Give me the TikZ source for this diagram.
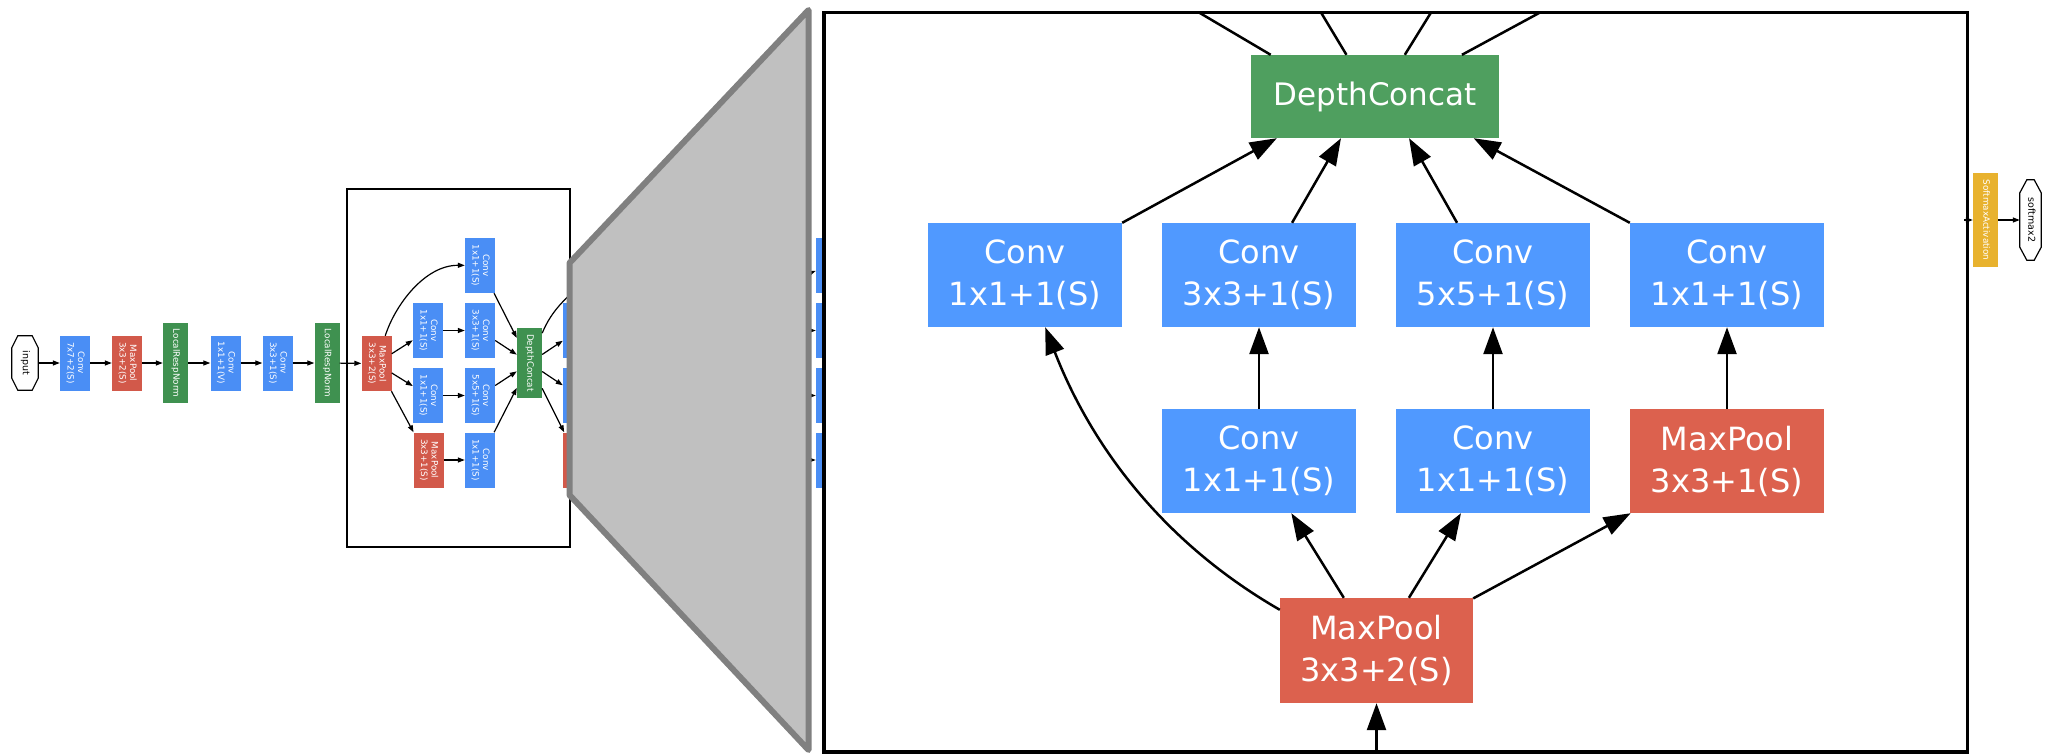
\documentclass[tikz,border=0pt]{standalone}
\usepackage{fontspec}
\usepackage{graphicx}
\setmainfont{DejaVu Sans}
\usetikzlibrary{arrows.meta,calc}
\definecolor{cblue}{HTML}{5099FF}
\definecolor{cred}{HTML}{DC614E}
\definecolor{cgreen}{HTML}{4F9F5F}
\definecolor{cyellow}{HTML}{E8B22E}
\definecolor{sblue}{HTML}{4A8EF5}
\definecolor{sred}{HTML}{D2594A}
\definecolor{sgreen}{HTML}{3F9150}
\definecolor{tfill}{HTML}{C0C0C0}
\definecolor{tline}{HTML}{808080}
\newcommand{\rlab}[1]{\rotatebox[origin=c]{-90}{\begin{tabular}{@{}c@{}}#1\end{tabular}}}
\tikzset{
  sbox/.style={rectangle, inner sep=0pt, text=white, font=\fontsize{8.8}{10.5}\selectfont},
  sconv/.style={sbox, fill=sblue, minimum width=30pt, minimum height=55pt},
  spool/.style={sbox, fill=sred, minimum width=30pt, minimum height=55pt},
  snorm/.style={sbox, fill=sgreen},
  sedge/.style={line width=1.2pt, -{Triangle[length=7pt,width=5pt]}},
  bbox/.style={rectangle, inner sep=0pt, text=white, align=center, font=\fontsize{32}{42}\selectfont, minimum width=194pt, minimum height=104pt},
  bconv/.style={bbox, fill=cblue},
  bpool/.style={bbox, fill=cred},
  bedge/.style={line width=2.5pt, -{Triangle[length=27pt,width=19pt]}},
  bline/.style={line width=2.5pt},
  octo/.style={rectangle, inner sep=0pt, text=black, font=\fontsize{9.5}{11}\selectfont},
}
\begin{document}
\begin{tikzpicture}[x=1pt,y=-1pt]
\useasboundingbox (0,0) rectangle (2047,755);
% ---------------- small network ----------------
\node[octo, minimum width=26pt, minimum height=54pt] (inp) at (25,363) {\rlab{input}};
\draw[line width=1.2pt] ($(inp.north west)+(6,0)$) -- ($(inp.north east)+(-6,0)$) -- ($(inp.north east)+(0,12)$) -- ($(inp.south east)+(0,-12)$) -- ($(inp.south east)+(-6,0)$) -- ($(inp.south west)+(6,0)$) -- ($(inp.south west)+(0,-12)$) -- ($(inp.north west)+(0,12)$) -- cycle;
\node[sconv] (sc1) at (75,363) {\rlab{Conv\\7x7+2(S)}};
\node[spool] (sm1) at (127,363) {\rlab{MaxPool\\3x3+2(S)}};
\node[snorm, minimum width=25pt, minimum height=80pt] (sn1) at (175.5,363) {\rlab{LocalRespNorm}};
\node[sconv] (sc2) at (225.5,363) {\rlab{Conv\\1x1+1(V)}};
\node[sconv] (sc3) at (277.5,363) {\rlab{Conv\\3x3+1(S)}};
\node[snorm, minimum width=25pt, minimum height=80pt] (sn2) at (327,363) {\rlab{LocalRespNorm}};
\node[spool] (sm2) at (376.5,363.5) {\rlab{MaxPool\\3x3+2(S)}};
\node[sconv] (sr1) at (428,330.5) {\rlab{Conv\\1x1+1(S)}};
\node[sconv] (sr2) at (428,395.5) {\rlab{Conv\\1x1+1(S)}};
\node[spool] (sp) at (428.5,460) {\rlab{MaxPool\\3x3+1(S)}};
\node[sconv] (sa) at (480,265.5) {\rlab{Conv\\1x1+1(S)}};
\node[sconv] (sb) at (480,330.5) {\rlab{Conv\\3x3+1(S)}};
\node[sconv] (scc) at (480,395.5) {\rlab{Conv\\5x5+1(S)}};
\node[sconv] (sd) at (480,460) {\rlab{Conv\\1x1+1(S)}};
\node[snorm, minimum width=25pt, minimum height=70pt] (sdc) at (529.5,363) {\rlab{DepthConcat}};
\node[sconv] (sx1) at (578,330.5) {};
\node[sconv] (sx2) at (578,395.5) {};
\node[spool] (sx3) at (578,460) {};
\coordinate (sx0) at (610,262);
\draw[sedge] (inp) -- (sc1);
\draw[sedge] (sc1) -- (sm1);
\draw[sedge] (sm1) -- (sn1);
\draw[sedge] (sn1) -- (sc2);
\draw[sedge] (sc2) -- (sc3);
\draw[sedge] (sc3) -- (sn2);
\draw[sedge] (sn2) -- (sm2);
\draw[sedge] (sm2) .. controls (395,305) and (425,265) .. (sa);
\draw[sedge] (sm2) -- (sr1);
\draw[sedge] (sm2) -- (sr2);
\draw[sedge] (sm2) -- (sp);
\draw[sedge] (sr1) -- (sb);
\draw[sedge] (sr2) -- (scc);
\draw[sedge] (sp) -- (sd);
\draw[sedge] (sa) -- (sdc);
\draw[sedge] (sb) -- (sdc);
\draw[sedge] (scc) -- (sdc);
\draw[sedge] (sd) -- (sdc);
\draw[sedge] (sdc) -- (sx1);
\draw[sedge] (sdc) -- (sx2);
\draw[sedge] (sdc) -- (sx3);
\draw[line width=1.2pt] (sdc) .. controls (552,310) and (565,296) .. (sx0);
\draw[line width=2pt] (347,189) rectangle (570,547);
% slivers of the following layer
\node[sconv] (sy1) at (831,265.5) {};
\node[sconv] (sy2) at (831,330.5) {};
\node[sconv] (sy3) at (831,395.5) {};
\node[sconv] (sy4) at (831,460) {};
\coordinate (sz1) at (790,280);
\coordinate (sz2) at (790,330.5);
\coordinate (sz3) at (790,395.5);
\coordinate (sz4) at (790,460);
\draw[sedge] (sz1) -- (sy1);
\draw[sedge] (sz2) -- (sy2);
\draw[sedge] (sz3) -- (sy3);
\draw[sedge] (sz4) -- (sy4);
% ---------------- zoom trapezoid ----------------
\filldraw[fill=tfill, draw=tline, line width=6pt, line join=round] (569.5,263) -- (808.5,10) -- (808.5,750) -- (569.5,495) -- cycle;
% ---------------- big inception module ----------------
\fill[white] (824,12.5) rectangle (1967.5,752);
\node[bbox, fill=cgreen, minimum width=248pt, minimum height=83pt, font=\fontsize{31}{40}\selectfont] (dc) at (1375,96.5) {DepthConcat};
\node[bconv] (c1) at (1025,275) {Conv\\1x1+1(S)};
\node[bconv] (c2) at (1259,275) {Conv\\3x3+1(S)};
\node[bconv] (c3) at (1493,275) {Conv\\5x5+1(S)};
\node[bconv] (c4) at (1727,275) {Conv\\1x1+1(S)};
\node[bconv] (r2) at (1259,461) {Conv\\1x1+1(S)};
\node[bconv] (r3) at (1493,461) {Conv\\1x1+1(S)};
\node[bpool] (pp) at (1727,461) {MaxPool\\3x3+1(S)};
\node[bpool, minimum width=193pt, minimum height=105pt] (mp) at (1376.5,650.5) {MaxPool\\3x3+2(S)};
\coordinate (t1) at (1199,12.5);
\coordinate (t2) at (1321,12.5);
\coordinate (t3) at (1431,12.5);
\coordinate (t4) at (1540,12.5);
\coordinate (bin) at (1376.5,752);
\draw[bline] ($(dc.north west)!0.08!(dc.north east)$) -- (t1);
\draw[bline] ($(dc.north west)!0.385!(dc.north east)$) -- (t2);
\draw[bline] ($(dc.north west)!0.62!(dc.north east)$) -- (t3);
\draw[bline] ($(dc.north west)!0.85!(dc.north east)$) -- (t4);
\draw[bedge] (c1.north east) -- ($(dc.south west)!0.105!(dc.south east)$);
\draw[bedge] ($(c2.north west)!0.67!(c2.north east)$) -- ($(dc.south west)!0.363!(dc.south east)$);
\draw[bedge] ($(c3.north west)!0.315!(c3.north east)$) -- ($(dc.south west)!0.637!(dc.south east)$);
\draw[bedge] (c4.north west) -- ($(dc.south west)!0.897!(dc.south east)$);
\draw[bedge] (r2) -- (c2);
\draw[bedge] (r3) -- (c3);
\draw[bedge] (pp) -- (c4);
\draw[bedge] ($(mp.north west)+(0,12)$) .. controls (1150,535) and (1085,430) .. (c1);
\draw[bedge] (mp) -- (r2);
\draw[bedge] (mp) -- (r3);
\draw[bedge] (mp) -- (pp);
\draw[bedge] (bin) -- (mp);
\draw[line width=3.5pt] (824,12.5) rectangle (1967.5,752);
% ---------------- output ----------------
\node[sbox, fill=cyellow, minimum width=25pt, minimum height=94pt] (sact) at (1985.5,220) {\rlab{SoftmaxActivation}};
\node[octo, minimum width=21pt, minimum height=80pt] (smx) at (2030.5,220) {\rlab{softmax2}};
\draw[line width=1.2pt] ($(smx.north west)+(7,0)$) -- ($(smx.north east)+(-7,0)$) -- ($(smx.north east)+(0,13)$) -- ($(smx.south east)+(0,-13)$) -- ($(smx.south east)+(-7,0)$) -- ($(smx.south west)+(7,0)$) -- ($(smx.south west)+(0,-13)$) -- ($(smx.north west)+(0,13)$) -- cycle;
\coordinate (sain) at (1964,220);
\draw[sedge] (sain) -- (sact);
\draw[sedge] (sact) -- (smx);
\end{tikzpicture}
\end{document}
